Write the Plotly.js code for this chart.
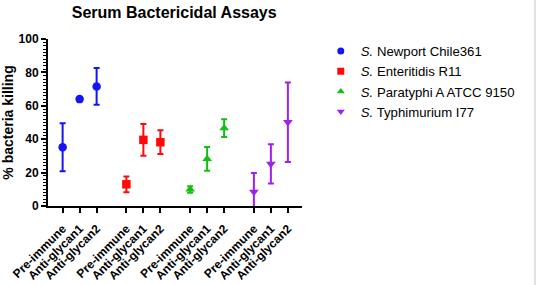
<!DOCTYPE html>
<html>
<head>
<meta charset="utf-8">
<script src="https://cdn.plot.ly/plotly-3.0.1.min.js"></script>
<style>html,body{margin:0;padding:0;background:#fff;}#chart{width:536px;height:285px;}</style>
</head>
<body>
<div id="chart"></div>
<script>
// ---- data ----
var conditions = ["Pre-immune", "Anti-glycan1", "Anti-glycan2"];
var strains = ["<i>S.</i> Newport Chile361", "<i>S.</i> Enteritidis R11", "<i>S.</i> Paratyphi A ATCC 9150", "<i>S.</i> Typhimurium I77"];
var newportMean = [35.2, 64.0, 71.6];
var newportErr  = [14.4, 0, 11.0];
var enteritidisMean = [13.0, 39.6, 38.2];
var enteritidisErr  = [4.7, 9.5, 7.1];
var paratyphiMean = [9.9, 28.2, 46.6];
var paratyphiErr  = [2.0, 7.1, 5.3];
var typhimuriumMean = [8.5, 25.2, 50.2];
var typhimuriumErr  = [11.2, 11.8, 23.8];

var means = [newportMean, enteritidisMean, paratyphiMean, typhimuriumMean];
var errs = [newportErr, enteritidisErr, paratyphiErr, typhimuriumErr];
var colors = ["#1414f5", "#ff0a0a", "#10c010", "#a020f0"];
var symbols = ["circle", "square", "triangle-up", "triangle-down"];
var groupStep = 3.75;

var traces = [];
var legendTraces = [];
var tickvals = [], ticktext = [];
strains.forEach(function (name, g) {
  var xs = conditions.map(function (c, i) { return g * groupStep + i; });
  xs.forEach(function (x, i) { tickvals.push(x); ticktext.push(conditions[i]); });
  traces.push({
    type: "scatter", mode: "markers", name: name, showlegend: false,
    x: xs, y: means[g],
    marker: {color: colors[g], symbol: symbols[g], size: 8.5},
    error_y: {type: "data", array: errs[g], visible: true, color: colors[g], thickness: 2, width: 3}
  });
  legendTraces.push({
    type: "scatter", mode: "markers", name: name, showlegend: true,
    x: [null], y: [null],
    marker: {color: colors[g], symbol: symbols[g], size: 7}
  });
});
// carrier trace so the tick-label axis is drawn
legendTraces.push({type: "scatter", mode: "markers", x: [null], y: [null], xaxis: "x2", yaxis: "y", showlegend: false, hoverinfo: "skip"});

var xRange = [-0.86, 14.08];
var layout = {
  width: 536, height: 285,
  margin: {l: 48, r: 0, t: 39, b: 79},
  paper_bgcolor: "#fff", plot_bgcolor: "#fff",
  font: {family: "Liberation Sans, Arial, sans-serif", color: "#000"},
  title: {text: "<b>Serum Bactericidal Assays</b>", font: {size: 16, color: "#000"}, x: 0.325, xanchor: "center", y: 0.955, yanchor: "middle"},
  showlegend: true,
  legend: {x: 0.559, y: 1.018, xanchor: "left", yanchor: "top", font: {size: 13.2, color: "#000"}, tracegroupgap: 0, itemsizing: "trace", bgcolor: "rgba(0,0,0,0)"},
  xaxis: {
    domain: [0, 254 / 488],
    range: xRange, tickmode: "array", tickvals: tickvals, showticklabels: false,
    showgrid: false, zeroline: false, showline: true, linecolor: "#000", linewidth: 2,
    ticks: "outside", ticklen: 5, tickwidth: 2, tickcolor: "#000"
  },
  xaxis2: {
    domain: [0, 254 / 488], anchor: "y", overlaying: "x", side: "bottom",
    range: xRange, tickmode: "array", tickvals: tickvals, ticktext: ticktext,
    tickangle: -45, tickfont: {size: 12, weight: "bold"},
    showgrid: false, zeroline: false, showline: false,
    ticks: "outside", ticklen: 10, tickwidth: 1, tickcolor: "rgba(0,0,0,0)"
  },
  yaxis: {
    range: [0, 100], dtick: 20, tickfont: {size: 12, weight: "bold"},
    title: {text: "<b>% bacteria killing</b>", font: {size: 14}, standoff: 6},
    showgrid: false, zeroline: false, showline: true, linecolor: "#000", linewidth: 2,
    ticks: "outside", ticklen: 5, tickwidth: 2, tickcolor: "#000",
    minor: {dtick: 2, ticks: "outside", ticklen: 3, tickwidth: 1, tickcolor: "#000", showgrid: false}
  },
  shapes: [{type: "line", xref: "paper", yref: "paper", x0: 0.998, x1: 0.998, y0: -0.48, y1: 1.24, line: {color: "#d8d8d8", width: 1.5}}]
};

Plotly.newPlot("chart", traces.concat(legendTraces), layout, {displayModeBar: false, staticPlot: true});
</script>
</body>
</html>
